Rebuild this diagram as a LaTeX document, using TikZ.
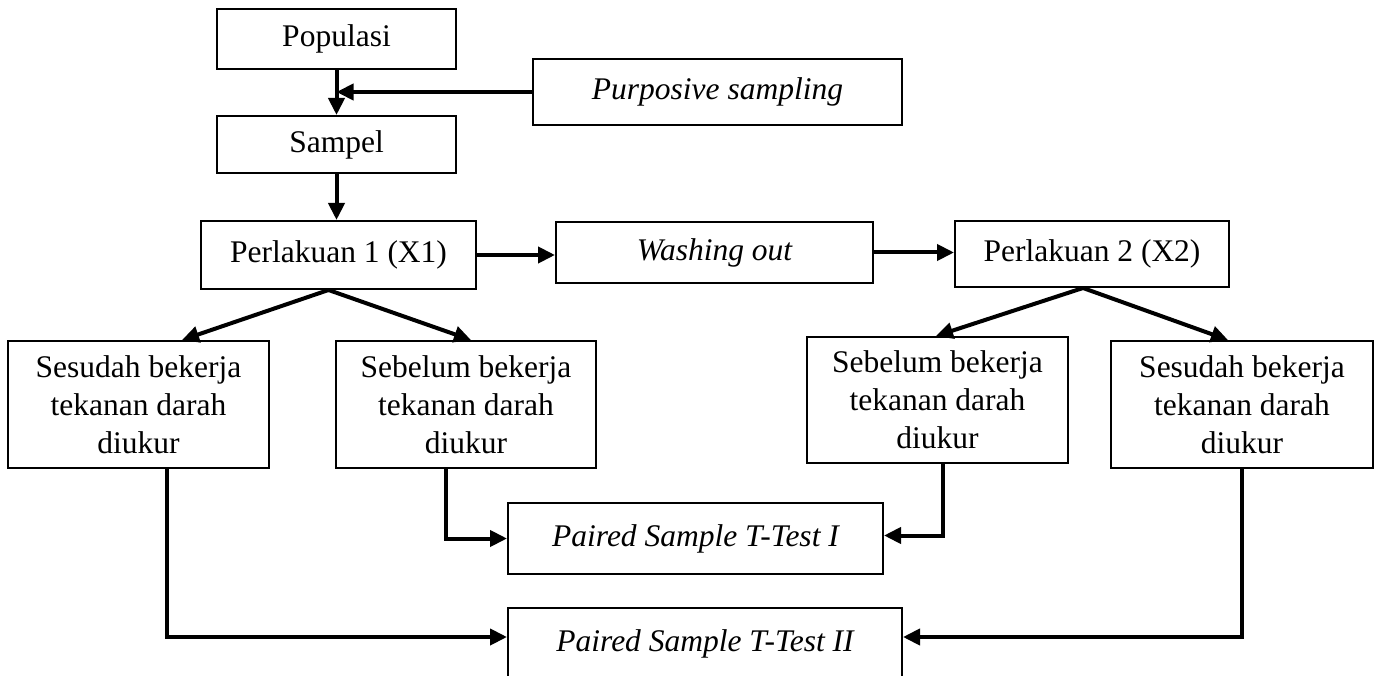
\documentclass[tikz,border=0pt]{standalone}
\usepackage{fontspec}
\setmainfont{Liberation Serif}
\usetikzlibrary{arrows.meta,calc}
\begin{document}
\begin{tikzpicture}[x=1pt,y=-1pt,
  box/.style={draw, line width=2pt, align=center, inner sep=0pt,
    font=\fontsize{31.5}{38}\selectfont},
  conn/.style={line width=4pt, -{Triangle[length=17pt,width=16pt]}},
  link/.style={line width=4pt}]
\clip (0,0) rectangle (1378,676);
\fill[white] (0,0) rectangle (1378,676);
% boxes
\node[box, minimum width=239pt, minimum height=60pt] (pop) at (336.5,39) {Populasi};
\node[box, minimum width=369pt, minimum height=66pt] (pur) at (717.5,92) {\itshape Purposive sampling};
\node[box, minimum width=239pt, minimum height=57pt] (sam) at (336.5,144.5) {Sampel};
\node[box, minimum width=275pt, minimum height=68pt] (p1) at (338.5,255) {Perlakuan 1 (X1)};
\node[box, minimum width=317pt, minimum height=61pt] (wash) at (714.5,252.5) {\itshape Washing out};
\node[box, minimum width=274pt, minimum height=66pt] (p2) at (1092,254) {Perlakuan 2 (X2)};
\node[box, minimum width=261pt, minimum height=127pt] (sesL) at (138.5,404.5) {Sesudah bekerja\\tekanan darah\\diukur};
\node[box, minimum width=260pt, minimum height=127pt] (sebL) at (466,404.5) {Sebelum bekerja\\tekanan darah\\diukur};
\node[box, minimum width=261pt, minimum height=126pt] (sebR) at (937.5,400) {Sebelum bekerja\\tekanan darah\\diukur};
\node[box, minimum width=262pt, minimum height=127pt] (sesR) at (1242,404.5) {Sesudah bekerja\\tekanan darah\\diukur};
\node[box, minimum width=375pt, minimum height=71pt] (pst1) at (695.5,538.5) {\itshape Paired Sample T-Test I};
\node[box, minimum width=394pt, minimum height=71pt] (pst2) at (705,643.5) {\itshape Paired Sample T-Test II};
% connectors
\draw[conn] (pop.south) -- (sam.north);
\draw[conn] (pur.west) -- (pur.west -| pop.south);
\draw[conn] (sam.south) -- (sam.south |- p1.north);
\draw[conn] (p1.east) -- (p1.east -| wash.west);
\draw[conn] (wash.east) -- (wash.east -| p2.west);
\draw[conn] ([xshift=-10pt]p1.south) -- ([xshift=43.5pt]sesL.north);
\draw[conn] ([xshift=-10pt]p1.south) -- ([xshift=5pt]sebL.north);
\draw[conn] ([xshift=-9pt]p2.south) -- ([xshift=-1.5pt]sebR.north);
\draw[conn] ([xshift=-9pt]p2.south) -- ([xshift=-14pt]sesR.north);
\draw[conn] ([xshift=-20pt]sebL.south) |- (pst1.west);
\draw[conn] ([xshift=5.5pt]sebR.south) |- ([yshift=3pt]pst1.east);
\draw[conn] ([xshift=28.5pt]sesL.south) |- ([yshift=6.5pt]pst2.west);
\draw[conn] (sesR.south) |- ([yshift=6.5pt]pst2.east);
\end{tikzpicture}
\end{document}
